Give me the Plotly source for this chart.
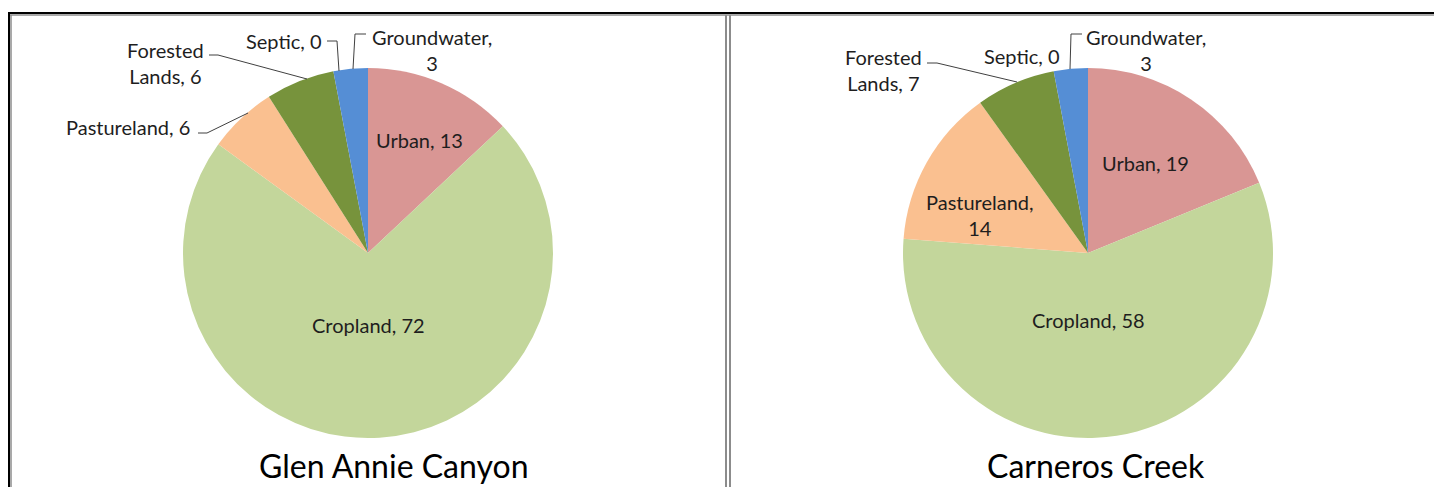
import plotly.graph_objects as go

# the page puts the plot 8px in from the top-left corner
OFF = 8
W, H = 1442 - OFF, 487 - OFF

sources = ["Urban", "Cropland", "Pastureland", "Forested Lands", "Septic", "Groundwater"]
glen_annie = [13, 72, 6, 6, 0, 3]
carneros = [19, 58, 14, 7, 0, 3]
titles = ["Glen Annie Canyon", "Carneros Creek"]
colors = ["#D99694", "#C3D69B", "#FAC090", "#77933C", "#4BACC6", "#558ED5"]

FONT = "Lato, 'Open Sans', sans-serif"


def px(x):
    return (x - OFF) / W


def py(y):
    return 1 - (y - OFF) / H


def domain(cx, cy, r):
    return dict(x=[px(cx - r), px(cx + r)], y=[py(cy + r), py(cy - r)])


def lab(name, value, wrap=False):
    if wrap:
        if " " in name:
            a, b = name.split(" ", 1)
            return f"{a}<br>{b}, {value}"
        return f"{name},<br>{value}"
    return f"{name}, {value}"


fig = go.Figure()
for vals, (cx, cy) in zip([glen_annie, carneros], [(368, 253), (1088, 253)]):
    fig.add_trace(go.Pie(
        labels=sources, values=vals, sort=False, direction="clockwise",
        rotation=0, textinfo="none", hoverinfo="label+value",
        marker=dict(colors=colors, line=dict(width=0)),
        domain=domain(cx, cy, 185), showlegend=False,
    ))

# data labels: (index, wrapped?, x, y) in pixels
label_pos = [
    (glen_annie, [(0, False, 420, 140), (1, False, 368, 325), (2, False, 128, 127),
                  (3, True, 165, 63), (4, False, 284, 41), (5, True, 432, 50)]),
    (carneros, [(0, False, 1145, 163), (1, False, 1088, 320), (2, True, 980, 215),
                (3, True, 883, 70), (4, False, 1022, 56), (5, True, 1146, 50)]),
]
for vals, items in label_pos:
    for i, wrap, x, y in items:
        fig.add_annotation(
            x=px(x), y=py(y), xref="paper", yref="paper", showarrow=False,
            text=lab(sources[i], vals[i], wrap), align="center",
            font=dict(family=FONT, size=20, color="#1e1e1e"),
            xanchor="center", yanchor="middle",
        )

for t, x in zip(titles, [394, 1096]):
    fig.add_annotation(
        x=px(x), y=py(465), xref="paper", yref="paper", showarrow=False,
        text=t, font=dict(family=FONT, size=32, color="#000000"),
        xanchor="center", yanchor="middle",
    )

# leader lines
leaders = [
    [(198, 133), (207, 133), (248, 113)],
    [(209, 55), (218, 55), (307, 79)],
    [(327, 41), (337, 41), (339, 71)],
    [(366, 34), (355, 34), (353, 69)],
    [(927, 63), (937, 63), (1017, 82)],
    [(1082, 34), (1071, 34), (1070, 69)],
]
for pts in leaders:
    path = "M " + " L ".join(f"{px(x)},{py(y)}" for x, y in pts)
    fig.add_shape(type="path", path=path, xref="paper", yref="paper",
                  line=dict(color="#404040", width=1))

# panel borders
borders = [
    ((8, 13), (1442, 13), "#000000", 2),
    ((10, 15), (1442, 15), "#8c8c8c", 1.5),
    ((9, 13), (9, 487), "#000000", 2),
    ((11, 15), (11, 487), "#8c8c8c", 1.5),
    ((726, 15), (726, 487), "#8c8c8c", 2),
    ((730, 15), (730, 487), "#8c8c8c", 2),
]
for (x0, y0), (x1, y1), c, w in borders:
    fig.add_shape(type="line", x0=px(x0), y0=py(y0), x1=px(x1), y1=py(y1),
                  xref="paper", yref="paper", line=dict(color=c, width=w))

fig.update_layout(
    width=W, height=H, margin=dict(l=0, r=0, t=0, b=0),
    paper_bgcolor="white", plot_bgcolor="white",
    font=dict(family=FONT),
)

fig.write_html("out.html")
